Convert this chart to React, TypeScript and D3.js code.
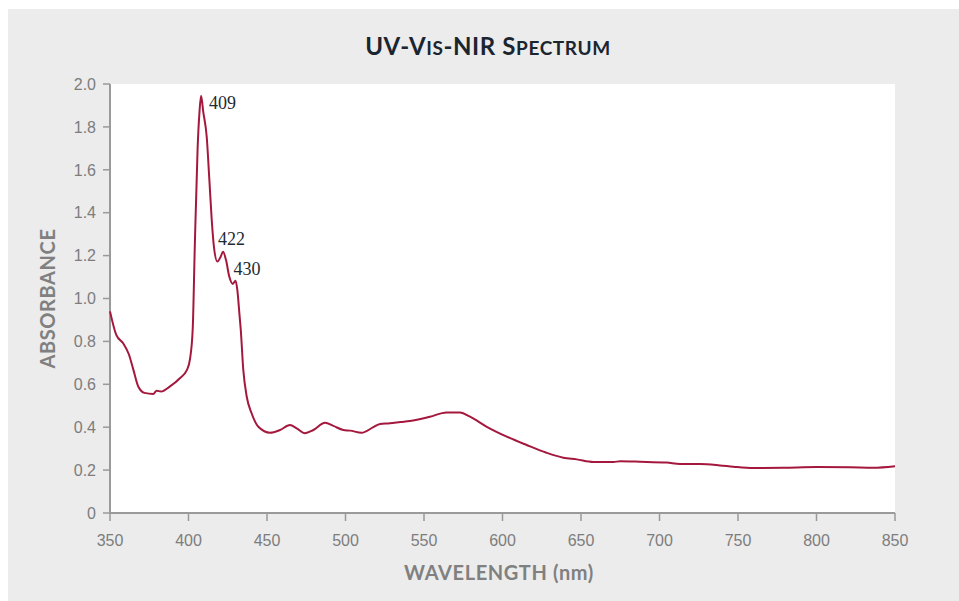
import React from "react";
import * as d3 from "d3";

// wavelength (nm) and absorbance
const wavelength = [
  350, 354, 358.5, 362, 365, 368, 372, 377.5, 379.7, 382.5, 388, 394.5, 399,
  401, 402.7, 404, 405.8, 407, 408, 409.4, 411.6, 413.3, 414.8, 416.2, 418.4,
  420.5, 422, 423.9, 426, 428.2, 430, 431.1, 432.4, 433.3, 434.9, 437.1, 440.2,
  444.5, 452, 458.3, 464.6, 468.9, 474.2, 479.5, 487, 492.3, 498.6, 503, 510.3,
  517.7, 522, 528.3, 535, 541, 553.8, 564.4, 573, 579.3, 590, 602.7, 615.4, 628,
  638.7, 647.3, 657.8, 670.6, 675, 687.6, 704.6, 713, 725.8, 738.5, 747, 759.7,
  778.8, 800, 821.3, 836.2, 850,
];
const absorbance = [
  0.94, 0.83, 0.79, 0.74, 0.665, 0.59, 0.56, 0.555, 0.57, 0.566, 0.589, 0.628,
  0.667, 0.72, 0.86, 1.24, 1.7, 1.87, 1.945, 1.87, 1.754, 1.552, 1.366, 1.241,
  1.172, 1.195, 1.218, 1.179, 1.101, 1.068, 1.083, 1.04, 0.931, 0.853, 0.667,
  0.542, 0.465, 0.402, 0.374, 0.387, 0.41, 0.395, 0.372, 0.387, 0.421, 0.406,
  0.387, 0.384, 0.374, 0.4, 0.415, 0.418, 0.424, 0.429, 0.449, 0.469, 0.468,
  0.449, 0.402, 0.356, 0.317, 0.281, 0.258, 0.25, 0.238, 0.238, 0.241, 0.239,
  0.235, 0.228, 0.228, 0.222, 0.216, 0.21, 0.211, 0.214, 0.213, 0.211, 0.218,
];

const xTicks = [350, 400, 450, 500, 550, 600, 650, 700, 750, 800, 850];
const yTicks = [0, 0.2, 0.4, 0.6, 0.8, 1.0, 1.2, 1.4, 1.6, 1.8, 2.0];

// peak labels: text, wavelength of the peak, absorbance of the peak
const peakLabels = ["409", "422", "430"];
const peakWl = [408, 422, 430];
const peakAbs = [1.945, 1.218, 1.083];
const peakOffsets = [
  [8, 13],
  [-5, -7],
  [-2, -6],
];

// title pieces, fake small caps: [text, isSmall]
const titleParts: [string, boolean][] = [
  ["UV-V", false],
  ["IS", true],
  ["-NIR S", false],
  ["PECTRUM", true],
];

const W = 959;
const H = 601;
const left = 110;
const right = 895;
const top = 84;
const bottom = 513;

const axisGray = "#9a9a9a";
const labelGray = "#7d7d7d";
const lineColor = "#a5183d";
const titleFont = "Lato, 'DejaVu Sans', sans-serif";

const App = () => {
  const x = d3.scaleLinear().domain([350, 850]).range([left, right]);
  const y = d3.scaleLinear().domain([0, 2]).range([bottom, top]);

  const points = wavelength.map((w, i) => [w, absorbance[i]] as [number, number]);
  const line = d3
    .line<[number, number]>()
    .x((d) => x(d[0]))
    .y((d) => y(d[1]))
    .curve(d3.curveMonotoneX);

  const yFmt = (v: number) => (v === 0 ? "0" : v.toFixed(1));

  return (
    <svg
      width={W}
      height={H}
      style={{ position: "absolute", left: 0, top: 0 }}
    >
      <rect x={0} y={0} width={W} height={H} fill="#ffffff" />
      <rect x={8} y={9} width={W - 8} height={H - 9} fill="#ececec" />
      <rect x={left} y={top} width={right - left} height={bottom - top} fill="#ffffff" />

      {/* title */}
      <text
        x={488}
        y={55}
        textAnchor="middle"
        fontFamily={titleFont}
        fontWeight="bold"
        fill="#1b2530"
        letterSpacing={0.6}
      >
        {titleParts.map(([t, small], i) => (
          <tspan key={i} fontSize={small ? 19 : 24}>
            {t}
          </tspan>
        ))}
      </text>

      {/* y axis */}
      <line x1={left} x2={left} y1={top} y2={bottom} stroke={axisGray} strokeWidth={2} />
      {yTicks.map((t) => (
        <g key={t}>
          <line x1={left - 7} x2={left} y1={y(t)} y2={y(t)} stroke={axisGray} strokeWidth={1.5} />
          <text
            x={left - 14}
            y={y(t)}
            dy="0.36em"
            textAnchor="end"
            fontFamily="'Liberation Sans', Arial, sans-serif"
            fontSize={16}
            fill={labelGray}
          >
            {yFmt(t)}
          </text>
        </g>
      ))}

      {/* x axis */}
      <line x1={left} x2={right} y1={bottom} y2={bottom} stroke={axisGray} strokeWidth={2} />
      {xTicks.map((t) => (
        <g key={t}>
          <line x1={x(t)} x2={x(t)} y1={bottom} y2={bottom + 8} stroke={axisGray} strokeWidth={1.5} />
          <text
            x={x(t)}
            y={bottom + 33}
            textAnchor="middle"
            fontFamily="'Liberation Sans', Arial, sans-serif"
            fontSize={16}
            fill={labelGray}
          >
            {t}
          </text>
        </g>
      ))}

      {/* axis titles */}
      <text
        x={499}
        y={580}
        textAnchor="middle"
        fontFamily={titleFont}
        fontWeight="bold"
        fontSize={20}
        letterSpacing={0.6}
        fill="#808080"
      >
        WAVELENGTH (nm)
      </text>
      <text
        transform={`translate(55,${y(1.0)}) rotate(-90)`}
        textAnchor="middle"
        fontFamily={titleFont}
        fontWeight="bold"
        fontSize={20}
        letterSpacing={0.6}
        fill="#808080"
      >
        ABSORBANCE
      </text>

      {/* spectrum */}
      <path d={line(points) ?? ""} fill="none" stroke={lineColor} strokeWidth={2} />

      {peakLabels.map((lab, i) => (
        <text
          key={lab}
          x={x(peakWl[i]) + peakOffsets[i][0]}
          y={y(peakAbs[i]) + peakOffsets[i][1]}
          fontFamily="'Liberation Serif', 'DejaVu Serif', serif"
          fontSize={18}
          fill="#1e2a33"
        >
          {lab}
        </text>
      ))}
    </svg>
  );
};

export default App;
